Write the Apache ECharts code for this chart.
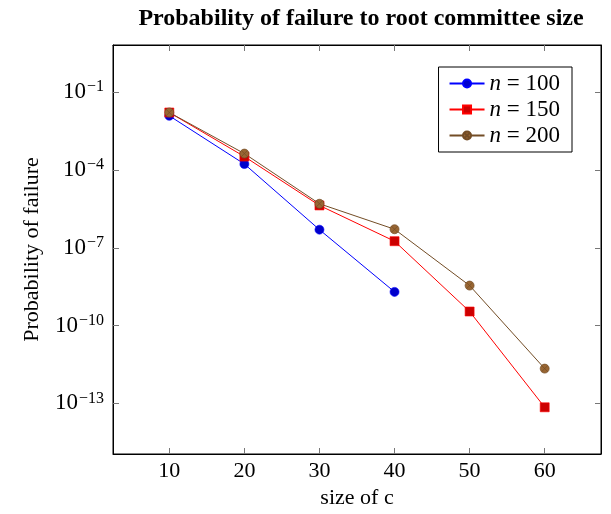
<!DOCTYPE html>
<html>
<head>
<meta charset="utf-8">
<script src="https://cdn.jsdelivr.net/npm/echarts@6/dist/echarts.min.js"></script>
<style>html,body{margin:0;padding:0;background:#fff}#c{width:611px;height:514px}</style>
</head>
<body>
<div id="c"></div>
<script>
const sizes = [10, 20, 30, 40, 50, 60];
const n100 = [1.23e-2, 1.7e-4, 5.0e-7, 2.0e-9];
const n150 = [1.65e-2, 3.3e-4, 4.3e-6, 1.8e-7, 3.5e-10, 7.1e-14];
const n200 = [1.65e-2, 4.3e-4, 5.0e-6, 5.2e-7, 3.5e-9, 2.2e-12];
const yTicks = [1e-13, 1e-10, 1e-7, 1e-4, 1e-1];
const xTicks = [10, 20, 30, 40, 50, 60];
const seriesNames = ['n = 100', 'n = 150', 'n = 200'];

const FONT = '"Liberation Serif", "DejaVu Serif", serif';
const yMin = Math.pow(10, -14.95), yMax = Math.pow(10, 0.82);
const OTIMES = 'path://M0,5 A5,5 0 1,1 10,5 A5,5 0 1,1 0,5 Z M1.46,1.46 L8.54,8.54 M8.54,1.46 L1.46,8.54';

function pairs(vals) { return vals.map((v, i) => [sizes[i], v]); }
function expLabel(v) {
  const e = Math.round(Math.log10(v));
  return '{b|10}{s|' + (e < 0 ? '\u2212' + (-e) : e) + '}';
}
const richY = {
  b: {fontFamily: FONT, fontSize: 23, color: '#000'},
  s: {fontFamily: FONT, fontSize: 16, color: '#000', padding: [0, 0, 10, 1]}
};
const tickStyle = {show: true, inside: true, length: 6, lineStyle: {color: '#777', width: 1}};

const chart = echarts.init(document.getElementById('c'), null, {renderer: 'canvas'});
chart.setOption({
  animation: false,
  backgroundColor: '#fff',
  title: {
    text: 'Probability of failure to root committee size',
    left: 356, top: 2, textAlign: 'center',
    textStyle: {fontFamily: FONT, fontSize: 24, fontWeight: 'bold', color: '#000'}
  },
  grid: {left: 113, top: 45, right: 10, bottom: 59, show: true, borderColor: '#000', borderWidth: 1, backgroundColor: 'transparent'},
  legend: {
    orient: 'vertical', right: 39, top: 67,
    data: seriesNames,
    borderColor: '#000', borderWidth: 1, backgroundColor: '#fff',
    padding: [5, 12, 5, 10], itemGap: 3, itemWidth: 35, itemHeight: 10,
    textStyle: {fontFamily: FONT, fontSize: 23, color: '#000',
      rich: {i: {fontFamily: FONT, fontSize: 23, fontStyle: 'italic', color: '#000'}}},
    formatter: function (name) { return '{i|n} = ' + name.split('= ')[1]; }
  },
  xAxis: [{
    type: 'value', min: 2.5, max: 67.5,
    name: 'size of c', nameLocation: 'middle', nameGap: 33,
    nameTextStyle: {fontFamily: FONT, fontSize: 22, color: '#000'},
    axisLine: {show: true, lineStyle: {color: '#000', width: 1}},
    axisTick: Object.assign({customValues: xTicks}, tickStyle),
    axisLabel: {customValues: xTicks, fontFamily: FONT, fontSize: 22, color: '#000', margin: 6},
    splitLine: {show: false}
  }, {
    type: 'value', min: 2.5, max: 67.5, position: 'top',
    axisLine: {show: true, lineStyle: {color: '#000', width: 1}},
    axisTick: Object.assign({customValues: xTicks}, tickStyle),
    axisLabel: {show: false, customValues: xTicks},
    splitLine: {show: false}
  }],
  yAxis: [{
    type: 'log', logBase: 10, min: yMin, max: yMax,
    name: 'Probability of failure', nameLocation: 'middle', nameGap: 70, nameRotate: 90,
    nameTextStyle: {fontFamily: FONT, fontSize: 22, color: '#000'},
    axisLine: {show: true, lineStyle: {color: '#000', width: 1}},
    axisTick: Object.assign({customValues: yTicks}, tickStyle),
    axisLabel: {customValues: yTicks, formatter: expLabel, rich: richY, margin: 9},
    splitLine: {show: false}, minorTick: {show: false}
  }, {
    type: 'log', logBase: 10, min: yMin, max: yMax, position: 'right',
    axisLine: {show: true, lineStyle: {color: '#000', width: 1}},
    axisTick: Object.assign({customValues: yTicks}, tickStyle),
    axisLabel: {show: false, customValues: yTicks},
    splitLine: {show: false}
  }],
  series: [{
    name: seriesNames[0], type: 'line', data: pairs(n100),
    symbol: 'circle', symbolSize: 9,
    lineStyle: {color: '#0000ff', width: 1},
    itemStyle: {color: '#0000cc', borderColor: '#0000ff', borderWidth: 0.6}
  }, {
    name: seriesNames[1], type: 'line', data: pairs(n150),
    symbol: 'rect', symbolSize: 9,
    lineStyle: {color: '#ff0000', width: 1},
    itemStyle: {color: '#cc0000', borderColor: '#ff0000', borderWidth: 0.6}
  }, {
    name: seriesNames[2], type: 'line', data: pairs(n200),
    symbol: OTIMES, symbolSize: 9, symbolKeepAspect: true,
    lineStyle: {color: '#734d26', width: 1},
    itemStyle: {color: '#996633', borderColor: '#734d26', borderWidth: 0.7}
  }]
});
</script>
</body>
</html>
